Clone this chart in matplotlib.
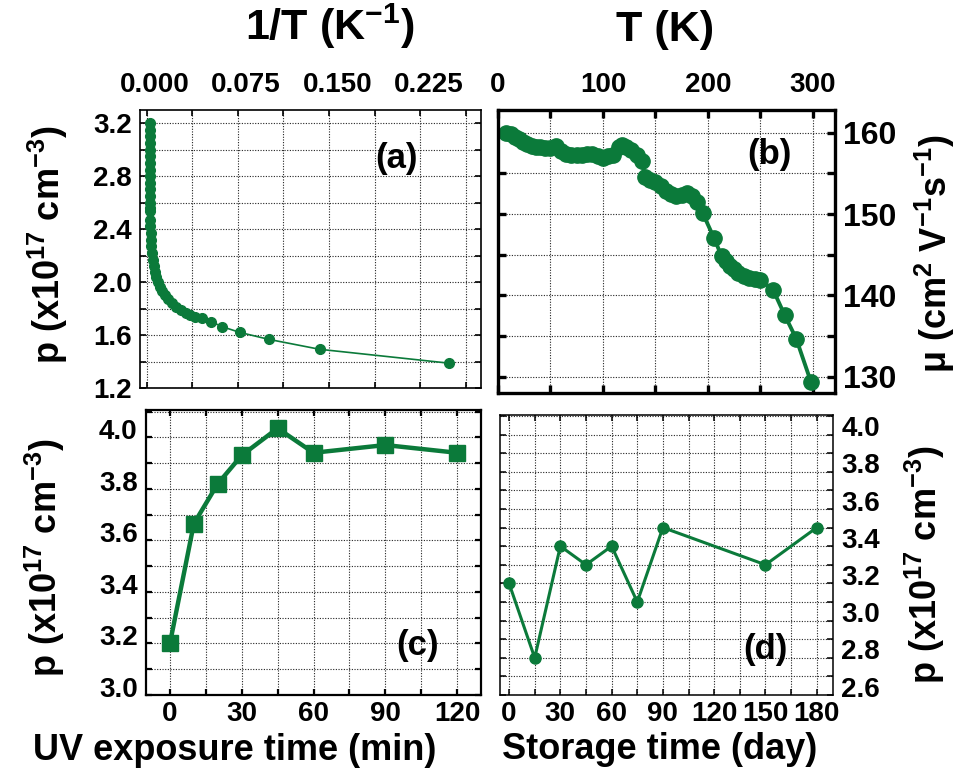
import numpy as np
import matplotlib
matplotlib.use("Agg")
import matplotlib.pyplot as plt
from matplotlib.ticker import MultipleLocator
from matplotlib.transforms import ScaledTranslation

plt.rcParams["font.family"] = ["Liberation Sans", "DejaVu Sans"]
plt.rcParams["font.weight"] = "bold"
plt.rcParams["axes.labelweight"] = "bold"
plt.rcParams["mathtext.fontset"] = "custom"
plt.rcParams["mathtext.bf"] = "Liberation Sans:bold"
plt.rcParams["mathtext.rm"] = "Liberation Sans:bold"
plt.rcParams["mathtext.default"] = "bf"

GREEN = "#0b7a3a"

# (a) carrier density vs 1/T
inv_T_a = [0.0026, 0.0027, 0.0026, 0.0028, 0.0027, 0.0026, 0.0027, 0.0028, 0.0027,
           0.0026, 0.0027, 0.0028, 0.0027, 0.0028, 0.0028,
           0.0028, 0.0030, 0.0032, 0.0035, 0.0039, 0.0044, 0.0050, 0.0057, 0.0066,
           0.0077, 0.0090, 0.0106, 0.0125, 0.0148, 0.0175, 0.0205, 0.0240, 0.0280,
           0.0320, 0.0360, 0.0400, 0.0451, 0.0533, 0.0623, 0.0766, 0.1004, 0.1422, 0.2487]
p_a = [3.20, 3.15, 3.10, 3.05, 3.00, 2.95, 2.90, 2.85, 2.80,
       2.75, 2.70, 2.65, 2.60, 2.56, 2.54,
       2.47, 2.42, 2.37, 2.32, 2.27, 2.22, 2.17, 2.12, 2.08,
       2.04, 2.00, 1.965, 1.93, 1.90, 1.87, 1.84, 1.815, 1.79,
       1.77, 1.75, 1.735, 1.725, 1.70, 1.6625, 1.62, 1.5675, 1.4925, 1.3875]

# (b) mobility vs T
T_b = [8, 12, 16, 20, 24, 28, 32, 36, 40, 45, 50, 55, 60, 65, 70, 75, 80, 85, 90, 95,
       100, 105, 110, 115, 118, 122, 127, 132, 137, 140, 145, 150, 155, 160, 165, 170,
       175, 180, 185, 190, 195, 206, 213, 217, 221, 225, 229, 234, 239, 245, 250,
       262, 273, 284, 298]
mu_b = [160.0, 159.8, 159.5, 159.2, 158.9, 158.6, 158.4, 158.3, 158.2, 158.1, 158.1,
        158.4, 157.8, 157.4, 157.3, 157.3, 157.3, 157.4, 157.4, 157.2,
        156.9, 157.1, 157.3, 158.2, 158.5, 158.3, 157.9, 157.3, 156.5, 154.6, 154.2,
        154.0, 153.4, 152.8, 152.5, 152.2, 152.4, 152.6, 152.2, 151.5, 150.1, 147.0,
        144.8, 144.2, 143.6, 143.2, 142.8, 142.4, 142.1, 142.0, 141.9,
        140.7, 137.6, 134.7, 129.4]

# (c) carrier density vs UV exposure time
uv_time = [0, 10, 20, 30, 45, 60, 90, 120]
p_c = [3.20, 3.665, 3.82, 3.93, 4.035, 3.94, 3.97, 3.94]

# (d) carrier density vs storage time
storage_day = [0, 15, 30, 45, 60, 75, 90, 150, 180]
p_d = [3.2, 2.8, 3.4, 3.3, 3.4, 3.1, 3.5, 3.3, 3.5]

W, H = 958, 770
fig = plt.figure(figsize=(W / 100, H / 100), dpi=100)


def make_axes(left, top, right, bottom):
    return fig.add_axes([left / W, 1 - bottom / H, (right - left) / W, (bottom - top) / H])


def style(ax, spine_w, grid_w=0.8):
    for s in ax.spines.values():
        s.set_linewidth(spine_w)
    ax.tick_params(which="both", direction="in", length=4, width=spine_w,
                   top=True, bottom=True, left=True, right=True, pad=6)
    ax.grid(True, which="both", color="#222222", linestyle=(0, (1, 1.4)), linewidth=grid_w)
    ax.set_axisbelow(True)


def shift(labels, dx, dy):
    for t in labels:
        t.set_transform(t.get_transform() + ScaledTranslation(dx / 72, dy / 72, fig.dpi_scale_trans))


ylab_p = r"p (x10$^{17}$ cm$^{-3}$)"
TICK = 20
LAB = 26
PANEL = 25

# ---------------- (a)
ax_a = make_axes(140, 110, 481, 388)
ax_a.plot(inv_T_a, p_a, "-o", color=GREEN, lw=1.2, ms=7, mec=GREEN)
ax_a.set_xlim(-0.0055, 0.275)
ax_a.set_ylim(1.2, 3.3)
ax_a.xaxis.set_major_locator(MultipleLocator(0.075))
ax_a.xaxis.set_minor_locator(MultipleLocator(0.0375))
ax_a.yaxis.set_major_locator(MultipleLocator(0.4))
ax_a.yaxis.set_minor_locator(MultipleLocator(0.2))
style(ax_a, 1.2)
ax_a.tick_params(labelbottom=False, labeltop=True, labelsize=TICK)
ax_a.xaxis.set_major_formatter(lambda v, pos: f"{v:.3f}")
ax_a.yaxis.set_major_formatter(lambda v, pos: f"{v:.1f}")
ax_a.tick_params(axis="x", pad=9)
ax_a.set_xlabel(r"1/T (K$^{-1}$)", fontsize=31, va="center")
ax_a.xaxis.set_label_position("top")
ax_a.xaxis.set_label_coords(0.557, 1.252)
ax_a.set_ylabel(ylab_p, fontsize=LAB, va="center")
ax_a.yaxis.set_label_coords(-0.27, 0.514)
ax_a.text(0.751, 0.824, "(a)", transform=ax_a.transAxes, fontsize=PANEL,
          ha="center", va="center")

# ---------------- (b)
ax_b = make_axes(498, 110, 835, 393)
ax_b.plot(T_b, mu_b, "-o", color=GREEN, lw=2.8, ms=11, mec=GREEN)
ax_b.set_xlim(0, 321)
ax_b.set_ylim(128, 162.8)
ax_b.xaxis.set_major_locator(MultipleLocator(100))
ax_b.xaxis.set_minor_locator(MultipleLocator(50))
ax_b.yaxis.set_major_locator(MultipleLocator(10))
ax_b.yaxis.set_minor_locator(MultipleLocator(5))
style(ax_b, 2.4)
ax_b.tick_params(which="both", length=6)
ax_b.tick_params(labelbottom=False, labeltop=True, labelleft=False, labelright=True)
ax_b.tick_params(axis="x", labelsize=TICK, pad=9)
ax_b.tick_params(axis="y", labelsize=23, pad=6)
ax_b.set_xlabel("T (K)", fontsize=31, va="center")
ax_b.xaxis.set_label_position("top")
ax_b.xaxis.set_label_coords(0.496, 1.244)
ax_b.set_ylabel(r"μ (cm$^{2}$ V$^{-1}$s$^{-1}$)", fontsize=LAB, rotation=90)
ax_b.yaxis.set_label_position("right")
ax_b.yaxis.label.set_va("center")
ax_b.yaxis.set_label_coords(1.297, 0.491)
ax_b.text(0.804, 0.841, "(b)", transform=ax_b.transAxes, fontsize=PANEL,
          ha="center", va="center")

# ---------------- (c)
ax_c = make_axes(146, 410, 481, 695)
ax_c.plot(uv_time, p_c, "-s", color=GREEN, lw=3.2, ms=11, mec=GREEN)
ax_c.set_xlim(-10, 130)
ax_c.set_ylim(3.0, 4.106)
ax_c.xaxis.set_major_locator(MultipleLocator(30))
ax_c.xaxis.set_minor_locator(MultipleLocator(15))
ax_c.yaxis.set_major_locator(MultipleLocator(0.2))
ax_c.yaxis.set_minor_locator(MultipleLocator(0.1))
style(ax_c, 1.6)
ax_c.tick_params(labelsize=TICK)
ax_c.tick_params(axis="x", pad=4)
ax_c.yaxis.set_major_formatter(lambda v, pos: f"{v:.1f}")
ax_c.set_xlabel("UV exposure time (min)", fontsize=26, va="center")
ax_c.xaxis.set_label_coords(0.266, -0.193)
ax_c.set_ylabel(ylab_p, fontsize=LAB, va="center")
ax_c.yaxis.set_label_coords(-0.301, 0.481)
ax_c.text(0.812, 0.175, "(c)", transform=ax_c.transAxes, fontsize=PANEL,
          ha="center", va="center")

# ---------------- (d)
ax_d = make_axes(500, 415, 833, 695)
ax_d.plot(storage_day, p_d, "-o", color=GREEN, lw=2.2, ms=8, mec=GREEN)
ax_d.set_xlim(-5.3, 189.5)
ax_d.set_ylim(2.6, 4.105)
ax_d.xaxis.set_major_locator(MultipleLocator(30))
ax_d.xaxis.set_minor_locator(MultipleLocator(15))
ax_d.yaxis.set_major_locator(MultipleLocator(0.2))
ax_d.yaxis.set_minor_locator(MultipleLocator(0.1))
style(ax_d, 1.1)
ax_d.tick_params(labelsize=TICK, labelleft=False, labelright=True)
ax_d.tick_params(axis="x", pad=4)
ax_d.yaxis.set_major_formatter(lambda v, pos: f"{v:.1f}")
ax_d.set_xlabel("Storage time (day)", fontsize=26, va="center")
ax_d.xaxis.set_label_coords(0.48, -0.196)
ax_d.set_ylabel(ylab_p, fontsize=LAB, rotation=90)
ax_d.yaxis.set_label_position("right")
ax_d.yaxis.label.set_va("center")
ax_d.yaxis.set_label_coords(1.276, 0.464)
ax_d.text(0.796, 0.161, "(d)", transform=ax_d.transAxes, fontsize=PANEL,
          ha="center", va="center")

# the original software nudges tick labels off their ticks
shift(ax_a.get_xticklabels(), 6, 0)
shift(ax_c.get_yticklabels(), 0, 6)
shift(ax_d.get_yticklabels(), 0, 6)

fig.savefig("out.png", dpi=100)
